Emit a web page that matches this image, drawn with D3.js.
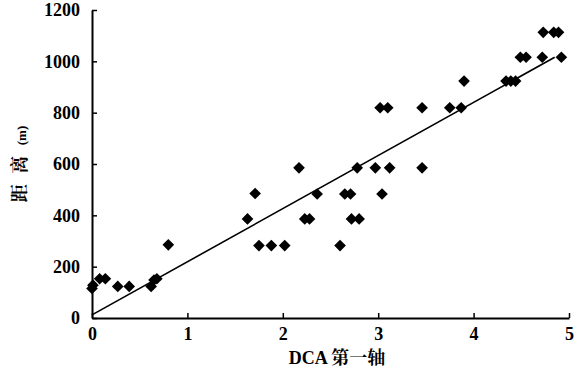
<!DOCTYPE html>
<html>
<head>
<meta charset="utf-8">
<script src="https://cdn.jsdelivr.net/npm/d3@7"></script>
<style>
	body { margin: 0; background: #fff; }
</style>
</head>
<body>
<script>
// DCA axis 1 score of each sample
const dcaScores = [0.00, 0.01, 0.08, 0.14, 0.27, 0.39, 0.62, 0.65, 0.68, 0.80,
	1.63, 1.71, 1.75, 1.88, 2.02, 2.17, 2.23, 2.28, 2.36, 2.60,
	2.65, 2.71, 2.72, 2.80, 2.78, 2.97, 3.04, 3.12, 3.02, 3.10,
	3.46, 3.46, 3.75, 3.87, 3.90, 4.34, 4.39, 4.44, 4.49, 4.55,
	4.72, 4.92, 4.73, 4.84, 4.89];

// distance (m) of each sample
const distances = [115, 128, 153, 153, 123, 123, 123, 148, 153, 285,
	386, 485, 282, 282, 282, 585, 386, 386, 483, 282,
	483, 483, 386, 386, 585, 585, 483, 585, 819, 819,
	819, 585, 819, 819, 923, 923, 923, 923, 1016, 1016,
	1016, 1016, 1113, 1113, 1113];

const xTicks = [0, 1, 2, 3, 4, 5];
const yTicks = [0, 200, 400, 600, 800, 1000, 1200];

// fitted line y = intercept + slope * x
const fitIntercept = 12;
const fitSlope = 207;
const fitExtent = [0, 4.85];

const points = dcaScores.map((d, i) => {
	return {x: d, y: distances[i]};
});

function constructChart(data) {
	const width = 585;
	const height = 374;
	const serif = "'Liberation Serif', 'Noto Serif CJK SC', serif";

	const scaleX = d3.scaleLinear().domain([0, 5]).range([92, 569]);
	const scaleY = d3.scaleLinear().domain([0, 1200]).range([318, 10]);

	const svg = d3.select("body")
		.append("svg")
		.attr("width", width)
		.attr("height", height);

	const axisX = d3.axisBottom(scaleX)
		.tickValues(xTicks)
		.tickFormat(d3.format("d"))
		.tickSizeInner(-5)
		.tickSizeOuter(0)
		.tickPadding(9);

	const axisY = d3.axisLeft(scaleY)
		.tickValues(yTicks)
		.tickFormat(d3.format("d"))
		.tickSizeInner(-5)
		.tickSizeOuter(0)
		.tickPadding(12);

	const gx = svg.append("g")
		.attr("transform", `translate(0,${scaleY(0)})`)
		.call(axisX);

	const gy = svg.append("g")
		.attr("transform", `translate(${scaleX(0)},0)`)
		.call(axisY);

	[gx, gy].forEach(g => {
		g.select(".domain").attr("stroke", "#000").attr("stroke-width", 2);
		g.selectAll(".tick line").attr("stroke", "#000").attr("stroke-width", 1.5);
		g.selectAll(".tick text")
			.style("font-family", serif)
			.style("font-size", "18px")
			.style("font-weight", "bold")
			.style("fill", "#000");
	});

	// regression line
	svg.append("path")
		.datum(fitExtent)
		.attr("fill", "none")
		.attr("stroke", "#000")
		.attr("stroke-width", 1.6)
		.attr("d", d3.line()
			.x(d => scaleX(d))
			.y(d => scaleY(fitIntercept + fitSlope * d)));

	// diamonds
	const diamond = d3.symbol().type(d3.symbolSquare).size(68);
	svg.append("g")
		.selectAll("path")
		.data(data)
		.join("path")
		.attr("d", diamond)
		.attr("fill", "#000")
		.attr("transform", d => `translate(${scaleX(d.x)},${scaleY(d.y)}) rotate(45)`);

	// x title
	svg.append("text")
		.attr("x", 337)
		.attr("y", 364)
		.attr("text-anchor", "middle")
		.style("font-family", serif)
		.style("font-size", "18px")
		.style("font-weight", "bold")
		.text("DCA 第一轴");

	// y title
	const yTitle = svg.append("text")
		.attr("transform", "translate(26,164) rotate(-90)")
		.attr("text-anchor", "middle")
		.style("font-family", serif)
		.style("font-size", "18px")
		.style("font-weight", "bold")
		.style("letter-spacing", "3px");
	yTitle.append("tspan").text("距 离 ");
	yTitle.append("tspan").style("font-size", "13px").style("letter-spacing", "0px").text("(m)");
}

constructChart(points);
</script>
</body>
</html>
